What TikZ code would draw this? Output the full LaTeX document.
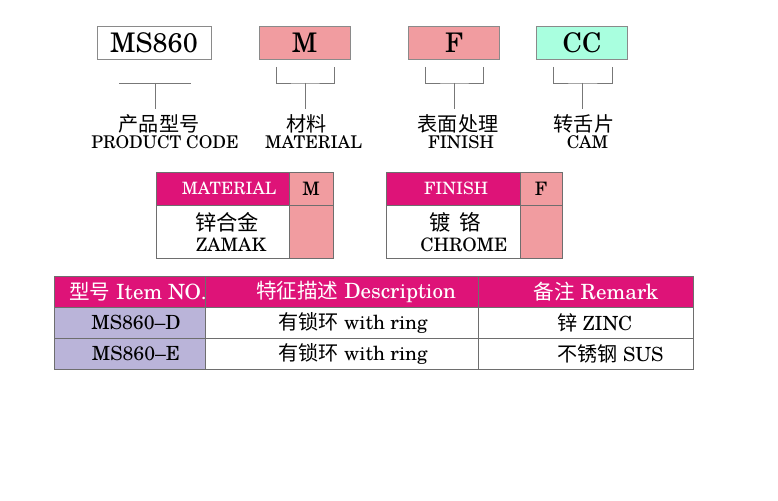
\documentclass[tikz,border=0pt]{standalone}
\usepackage{fontspec}
\setmainfont{TeX Gyre Schola}
\newfontfamily\cjk{Noto Sans CJK SC}[Scale=1.15]
\newfontfamily\cjkrow{Noto Sans CJK SC}[Scale=0.98]
\usetikzlibrary{positioning}
\definecolor{hdmag}{HTML}{DE1378}
\definecolor{pinkfill}{HTML}{F19CA0}
\definecolor{mintfill}{HTML}{A9FFDF}
\definecolor{lavfill}{HTML}{BAB4D9}
\definecolor{boxgray}{HTML}{8A8A8A}
\definecolor{linegray}{HTML}{777777}
\definecolor{tabgray}{HTML}{6E6E6E}

\begin{document}
\begin{tikzpicture}
	[
	x=1pt, y=-1pt,
	align=center,
	codebox/.style={draw=boxgray, line width=0.8pt, minimum width=91pt, minimum height=33pt, inner sep=0pt, font=\fontsize{27}{29}\selectfont},
	lbl/.style={inner sep=0pt, font=\fontsize{17.5}{20}\selectfont},
	cell/.style={inner sep=0pt, font=\fontsize{18.5}{21}\selectfont},
	head/.style={inner sep=0pt, text=white, font=\fontsize{17}{20}\selectfont},
	row/.style={inner sep=0pt, font=\fontsize{19.5}{22}\selectfont},
	rowhead/.style={inner sep=0pt, text=white, font=\fontsize{21}{24}\selectfont},
	bracket/.style={draw=linegray, line width=0.8pt},
	grid/.style={draw=tabgray, line width=0.8pt},
	]
		\useasboundingbox (0,0) rectangle (778,500);
		
		% code boxes
		\node[codebox, fill=white, minimum width=114pt] (code) at 	(154.0, 42.5) {MS860};
		\node[codebox, fill=pinkfill] (mat) at 		(304.5, 42.5) {M};
		\node[codebox, fill=pinkfill] (fin) at 		(454.0, 42.5) {F};
		\node[codebox, fill=mintfill] (cam) at 		(582.0, 42.5) {CC};
		
		% brackets
		\coordinate (code-l) at 	(119.0, 83.0);
		\coordinate (code-r) at 	(190.5, 83.0);
		\coordinate (code-j) at 	(155.0, 83.0);
		\coordinate (code-e) at 	(155.0,109.0);
		\coordinate (mat-l) at 		(276.0, 67.0);
		\coordinate (mat-r) at 		(334.0, 67.0);
		\coordinate (mat-j) at 		(305.0, 83.0);
		\coordinate (mat-e) at 		(305.0,109.0);
		\coordinate (fin-l) at 		(425.5, 67.0);
		\coordinate (fin-r) at 		(483.5, 67.0);
		\coordinate (fin-j) at 		(454.5, 83.0);
		\coordinate (fin-e) at 		(454.5,109.0);
		\coordinate (cam-l) at 		(553.0, 67.0);
		\coordinate (cam-r) at 		(612.0, 67.0);
		\coordinate (cam-j) at 		(582.5, 83.0);
		\coordinate (cam-e) at 		(582.5,109.0);
		
		\draw[bracket] (code-l) -- (code-r);
		\foreach \k in {mat,fin,cam} \draw[bracket] (\k-l) |- (\k-j) -| (\k-r);
		\foreach \k in {code,mat,fin,cam} \draw[bracket] (\k-j) -- (\k-e);
		
		% labels
		\node[lbl] (code-cn) at 	(159.0,124.0) {\cjk 产品型号};
		\node[lbl] (code-en) at 	(165.0,142.5) {PRODUCT CODE};
		\node[lbl] (mat-cn) at 		(306.5,124.0) {\cjk 材料};
		\node[lbl] (mat-en) at 		(313.5,142.5) {MATERIAL};
		\node[lbl] (fin-cn) at 		(458.0,124.0) {\cjk 表面处理};
		\node[lbl] (fin-en) at 		(461.0,142.5) {FINISH};
		\node[lbl] (cam-cn) at 		(584.0,124.0) {\cjk 转舌片};
		\node[lbl] (cam-en) at 		(587.5,142.5) {CAM};
		
		% material table
		\fill[hdmag] (156,172) rectangle (289,205);
		\fill[pinkfill] (289,172) rectangle (333,258);
		\draw[grid] (156,172) rectangle (333,258) (156,205) -- (333,205) (289,172) -- (289,258);
		\node[head] (mt-h) at 		(229.0,188.5) {MATERIAL};
		\node[cell] (mt-k) at 		(311.0,188.5) {M};
		\node[cell] (mt-cn) at 		(227.0,222.0) {\cjk 锌合金};
		\node[cell] (mt-en) at 		(231.0,245.0) {ZAMAK};
		
		% finish table
		\fill[hdmag] (386,172) rectangle (520,205);
		\fill[pinkfill] (520,172) rectangle (562,258);
		\draw[grid] (386,172) rectangle (562,258) (386,205) -- (562,205) (520,172) -- (520,258);
		\node[head] (ft-h) at 		(456.0,188.5) {FINISH};
		\node[cell] (ft-k) at 		(541.0,188.5) {F};
		\node[cell] (ft-cn) at 		(455.0,222.0) {\cjk 镀\hspace{9pt}铬};
		\node[cell] (ft-en) at 		(464.0,245.0) {CHROME};
		
		% item table
		\fill[hdmag] (54,276) rectangle (693,307);
		\fill[lavfill] (54,307) rectangle (205,369);
		\draw[grid] (54,276) rectangle (693,369) (54,307) -- (693,307) (54,338) -- (693,338)
			(205,276) -- (205,369) (478,276) -- (478,369);
		\node[rowhead] (it-h1) at 	(138.0,291.5) {{\cjkrow 型号} Item NO.};
		\node[rowhead] (it-h2) at 	(356.0,291.5) {{\cjkrow 特征描述} Description};
		\node[rowhead] (it-h3) at 	(596.0,291.5) {{\cjkrow 备注} Remark};
		\node[row] (it-d1) at 		(136.0,322.5) {MS860--D};
		\node[row] (it-e1) at 		(136.0,353.5) {MS860--E};
		\node[row] (it-d2) at 		(353.0,322.5) {{\cjk\fontsize{17.5}{20}\selectfont 有锁环} with ring};
		\node[row] (it-e2) at 		(353.0,353.5) {{\cjk\fontsize{17.5}{20}\selectfont 有锁环} with ring};
		\node[row, anchor=west] (it-d3) at 	(557.0,322.5) {{\cjk\fontsize{17.5}{20}\selectfont 锌} ZINC};
		\node[row, anchor=west] (it-e3) at 	(557.0,353.5) {{\cjk\fontsize{17.5}{20}\selectfont 不锈钢} SUS};
		
	\end{tikzpicture}
\end{document}
